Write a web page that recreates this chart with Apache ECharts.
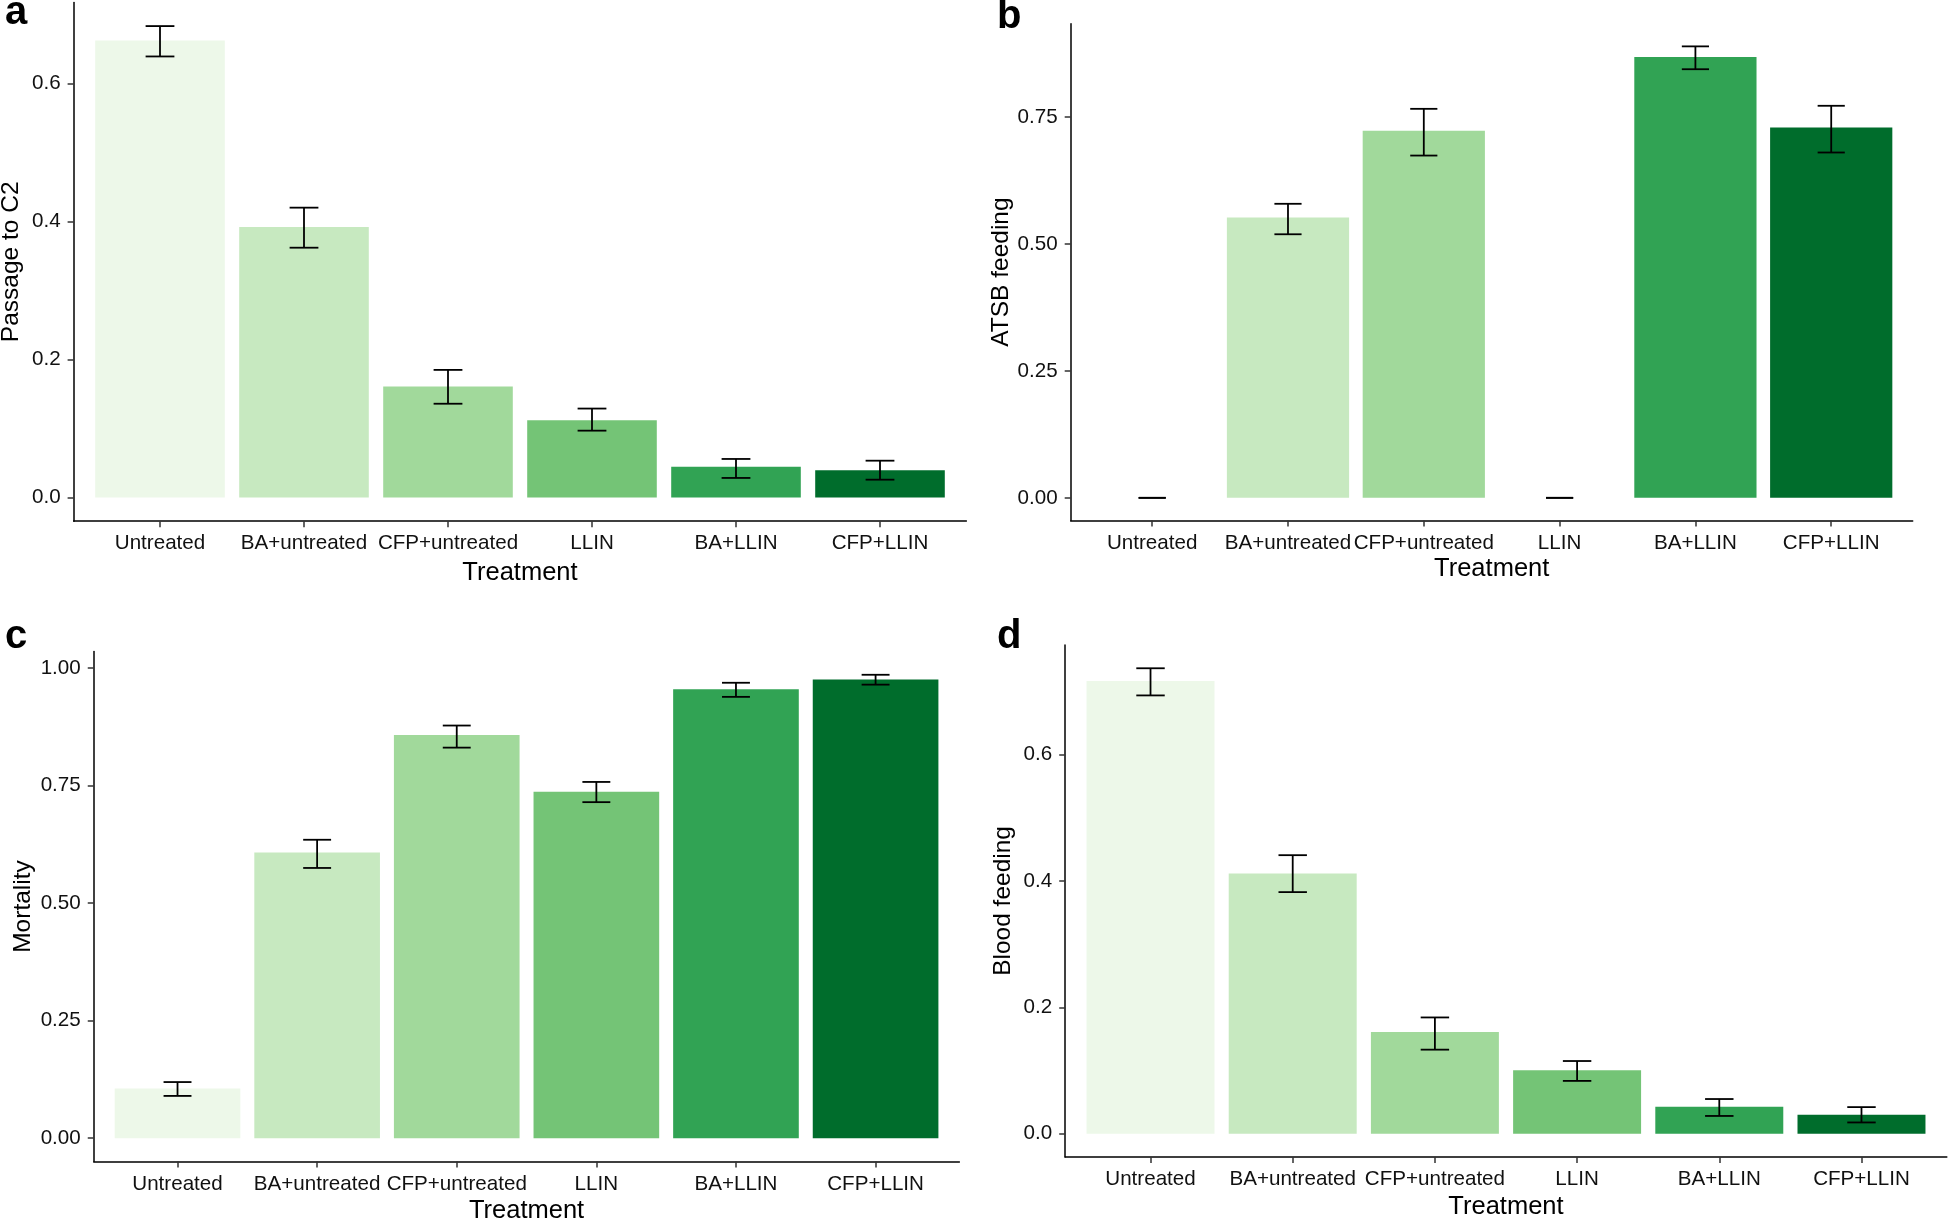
<!DOCTYPE html>
<html>
<head>
<meta charset="utf-8">
<script src="https://cdn.jsdelivr.net/npm/echarts@6/dist/echarts.min.js"></script>
<style>
html,body{margin:0;padding:0;background:#fff;}
#chart{width:1949px;height:1223px;}
</style>
</head>
<body>
<div id="chart"></div>
<script>
// ---- data ----
const categories = ['Untreated', 'BA+untreated', 'CFP+untreated', 'LLIN', 'BA+LLIN', 'CFP+LLIN'];
const palette = ['#edf8e9', '#c7e9c0', '#a1d99b', '#74c476', '#31a354', '#006d2c'];

const passage   = [0.662, 0.392, 0.161, 0.112, 0.0446, 0.0397];
const passageLo = [0.639, 0.362, 0.136, 0.097, 0.0285, 0.026];
const passageHi = [0.683, 0.420, 0.185, 0.129, 0.056, 0.0535];
const passageTicks = [0, 0.2, 0.4, 0.6];

const atsb   = [0, 0.552, 0.723, 0, 0.868, 0.729];
const atsbLo = [0, 0.519, 0.674, 0, 0.844, 0.680];
const atsbHi = [0, 0.579, 0.766, 0, 0.889, 0.772];
const atsbTicks = [0, 0.25, 0.5, 0.75];

const mortality   = [0.1056, 0.608, 0.858, 0.737, 0.955, 0.976];
const mortalityLo = [0.090, 0.575, 0.831, 0.715, 0.939, 0.965];
const mortalityHi = [0.1195, 0.635, 0.878, 0.758, 0.969, 0.986];
const mortalityTicks = [0, 0.25, 0.5, 0.75, 1.0];

const blood   = [0.717, 0.412, 0.161, 0.1005, 0.0426, 0.030];
const bloodLo = [0.694, 0.3825, 0.133, 0.0835, 0.028, 0.0177];
const bloodHi = [0.737, 0.441, 0.184, 0.115, 0.0548, 0.042];
const bloodTicks = [0, 0.2, 0.4, 0.6];

// ---- panels ----
const FONT = '"Liberation Sans", Arial, Helvetica, sans-serif';
const panels = [
  {letter: 'a', yName: 'Passage to C2', vals: passage, lo: passageLo, hi: passageHi, ticks: passageTicks, dec: 1,
   grid: {left: 73.6, top: 2.5, width: 892.8, height: 518.7}, nameGap: 50, xNameGap: 39, letterPos: [5, 13]},
  {letter: 'b', yName: 'ATSB feeding', vals: atsb, lo: atsbLo, hi: atsbHi, ticks: atsbTicks, dec: 2,
   grid: {left: 1070.7, top: 23.8, width: 842, height: 496.6}, nameGap: 57, xNameGap: 36, letterPos: [997, 17]},
  {letter: 'c', yName: 'Mortality', vals: mortality, lo: mortalityLo, hi: mortalityHi, ticks: mortalityTicks, dec: 2,
   grid: {left: 93.75, top: 651.6, width: 865.6, height: 509.8}, nameGap: 58, xNameGap: 37, letterPos: [5, 637]},
  {letter: 'd', yName: 'Blood feeding', vals: blood, lo: bloodLo, hi: bloodHi, ticks: bloodTicks, dec: 1,
   grid: {left: 1065.2, top: 645, width: 881.6, height: 511.9}, nameGap: 49, xNameGap: 37, letterPos: [997, 637]}
];

const xs = categories.map((c, i) => i + 1);
const option = {
  animation: false,
  backgroundColor: '#ffffff',
  grid: [], xAxis: [], yAxis: [], series: [], graphic: []
};

panels.forEach((p, k) => {
  option.grid.push(Object.assign({containLabel: false, outerBoundsMode: 'none'}, p.grid));
  option.xAxis.push({
    type: 'value', gridIndex: k, min: 0.4, max: 6.6,
    name: 'Treatment', nameLocation: 'middle', nameGap: p.xNameGap,
    nameTextStyle: {fontFamily: FONT, fontSize: 25.5, color: '#000'},
    axisLine: {onZero: false, lineStyle: {color: '#000', width: 1.5}},
    axisTick: {customValues: xs, length: 6, lineStyle: {color: '#333', width: 1.5}},
    axisLabel: {customValues: xs, margin: 12, fontFamily: FONT, fontSize: 20.6, color: '#111',
      formatter: v => categories[Math.round(v) - 1]},
    splitLine: {show: false}
  });
  const top = Math.max.apply(null, p.hi);
  option.yAxis.push({
    type: 'value', gridIndex: k, min: -0.05 * top, max: 1.05 * top,
    name: p.yName, nameLocation: 'middle', nameGap: p.nameGap,
    nameTextStyle: {fontFamily: FONT, fontSize: 24.5, color: '#000'},
    axisLine: {show: true, onZero: false, lineStyle: {color: '#000', width: 1.5}},
    axisTick: {show: true, customValues: p.ticks, length: 6, lineStyle: {color: '#333', width: 1.5}},
    axisLabel: {customValues: p.ticks, margin: 13, fontFamily: FONT, fontSize: 20.6, color: '#111',
      formatter: v => Number(v).toFixed(p.dec)},
    splitLine: {show: false}
  });
  option.series.push({
    type: 'custom', xAxisIndex: k, yAxisIndex: k,
    data: p.vals.map((v, i) => [xs[i], v]),
    renderItem: (params, api) => {
      const x = api.value(0), v = api.value(1);
      const a = api.coord([x - 0.45, v]);
      const b = api.coord([x + 0.45, 0]);
      return {type: 'rect',
        shape: {x: a[0], y: Math.min(a[1], b[1]), width: b[0] - a[0], height: Math.abs(b[1] - a[1])},
        style: {fill: palette[params.dataIndex]}};
    }
  });
  option.series.push({
    type: 'custom', xAxisIndex: k, yAxisIndex: k, z: 5,
    data: p.lo.map((v, i) => [xs[i], v, p.hi[i]]),
    renderItem: (params, api) => {
      const x = api.value(0);
      const lo = api.coord([x, api.value(1)]);
      const hi = api.coord([x, api.value(2)]);
      const half = api.size([0.1, 0])[0];
      const st = {stroke: '#000', lineWidth: 1.8};
      return {type: 'group', children: [
        {type: 'line', shape: {x1: lo[0], y1: lo[1], x2: hi[0], y2: hi[1]}, style: st},
        {type: 'line', shape: {x1: lo[0] - half, y1: lo[1], x2: lo[0] + half, y2: lo[1]}, style: st},
        {type: 'line', shape: {x1: hi[0] - half, y1: hi[1], x2: hi[0] + half, y2: hi[1]}, style: st}
      ]};
    }
  });
  option.graphic.push({
    type: 'text', left: p.letterPos[0], top: p.letterPos[1] - 20,
    style: {text: p.letter, font: 'bold 40px ' + FONT, fill: '#000'}
  });
});

const chart = echarts.init(document.getElementById('chart'), null, {renderer: 'canvas'});
chart.setOption(option);
</script>
</body>
</html>
